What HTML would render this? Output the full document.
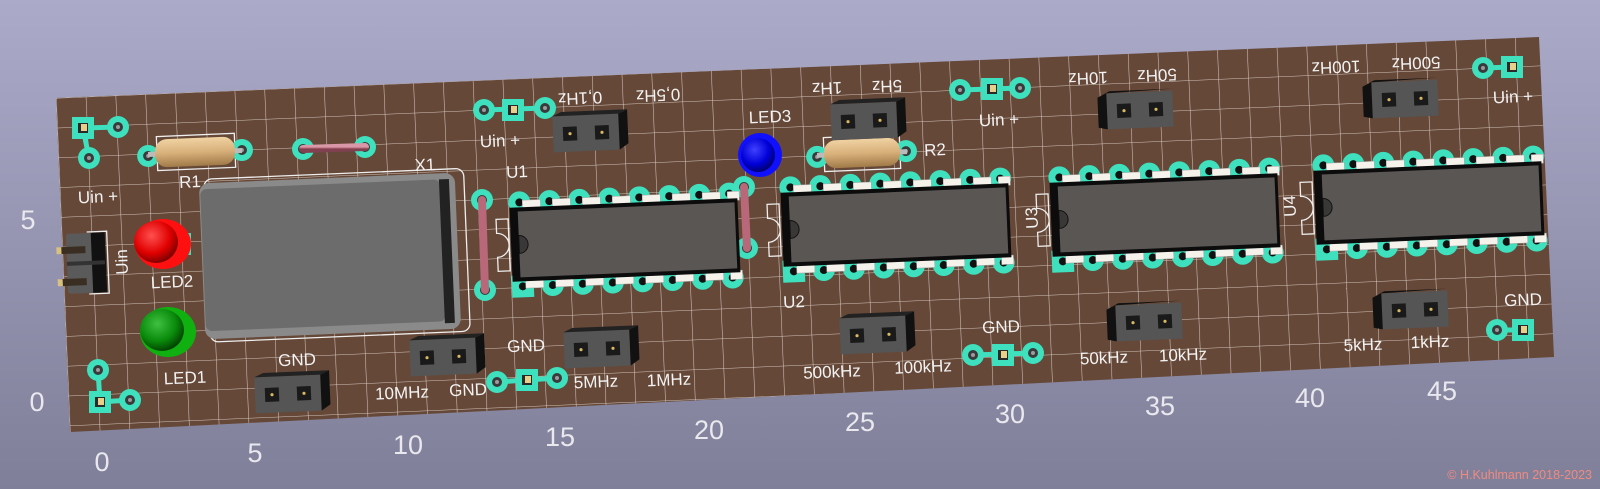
<!DOCTYPE html>
<html><head><meta charset="utf-8"><style>
html,body{margin:0;padding:0;width:1600px;height:489px;overflow:hidden}
svg{display:block}
text{font-family:"Liberation Sans","DejaVu Sans",sans-serif}
</style></head><body>
<svg width="1600" height="489" viewBox="0 0 1600 489" xmlns="http://www.w3.org/2000/svg">
<defs>
<linearGradient id="bg" x1="0" y1="0" x2="0" y2="1">
<stop offset="0" stop-color="#abaac9"/><stop offset="1" stop-color="#7f7f99"/></linearGradient>
<pattern id="grid" width="29.8" height="29.8" patternUnits="userSpaceOnUse" patternTransform="translate(56,98) rotate(-2.4)">
<path d="M0 0V29.8M0 0H29.8" stroke="#e8dcd4" stroke-width="1.1" fill="none" opacity="0.85"/></pattern>
<clipPath id="bc"><polygon points="56,98 1539,37 1554,357 70,432"/></clipPath>
<radialGradient id="red" cx="0.4" cy="0.35" r="0.7"><stop offset="0" stop-color="#ff5050"/><stop offset="0.6" stop-color="#e00000"/><stop offset="1" stop-color="#700000"/></radialGradient>
<radialGradient id="grn" cx="0.4" cy="0.35" r="0.7"><stop offset="0" stop-color="#40c040"/><stop offset="0.6" stop-color="#0a8a0a"/><stop offset="1" stop-color="#003800"/></radialGradient>
<radialGradient id="blu" cx="0.4" cy="0.35" r="0.7"><stop offset="0" stop-color="#4040ff"/><stop offset="0.6" stop-color="#0000d8"/><stop offset="1" stop-color="#000060"/></radialGradient>
<linearGradient id="res" x1="0" y1="0" x2="0" y2="1"><stop offset="0" stop-color="#f0d2a2"/><stop offset="0.5" stop-color="#d8b07a"/><stop offset="1" stop-color="#a07a48"/></linearGradient>
<linearGradient id="jmp" x1="0" y1="0" x2="0" y2="1"><stop offset="0" stop-color="#d898a8"/><stop offset="0.5" stop-color="#b86878"/><stop offset="1" stop-color="#804050"/></linearGradient>
<g id="rp"><circle r="11" fill="#3ee0bd"/><circle r="5" fill="#3a3a3a"/><circle r="2" fill="#9a9aa0"/></g>
<g id="sp"><rect x="-11" y="-11" width="22" height="22" fill="#3ee0bd"/><rect x="-5" y="-5" width="10" height="10" fill="#2a2a2a"/><rect x="-2" y="-4" width="6" height="7" fill="#e8cf8a"/></g>
<g id="hdrR"><rect x="-33" y="-18" width="66" height="36" fill="#555"/><polygon points="33,-18 42,-22 42,12 33,18" fill="#111"/><polygon points="-33,-18 -24,-22 42,-22 33,-18" fill="#222"/>
<rect x="-23" y="-7" width="14" height="14" fill="#1a1a1a"/><rect x="9" y="-7" width="14" height="14" fill="#1a1a1a"/><circle cx="-16" cy="0" r="1.6" fill="#d8b860"/><circle cx="16" cy="0" r="1.6" fill="#d8b860"/></g>
<g id="hdrL"><rect x="-33" y="-18" width="66" height="36" fill="#555"/><polygon points="-33,-18 -42,-14 -42,16 -33,18" fill="#111"/><polygon points="-42,-14 -33,-18 33,-20 -30,-20" fill="#111"/>
<rect x="-23" y="-7" width="14" height="14" fill="#1a1a1a"/><rect x="9" y="-7" width="14" height="14" fill="#1a1a1a"/><circle cx="-16" cy="0" r="1.6" fill="#d8b860"/><circle cx="16" cy="0" r="1.6" fill="#d8b860"/></g>
<g id="ic">
<g fill="#3ee0bd"><circle cx="-104" cy="-42" r="11"/><circle cx="-74" cy="-42" r="11"/><circle cx="-44" cy="-42" r="11"/><circle cx="-14" cy="-42" r="11"/><circle cx="16" cy="-42" r="11"/><circle cx="46" cy="-42" r="11"/><circle cx="76" cy="-42" r="11"/><circle cx="106" cy="-42" r="11"/>
<rect x="-115" y="31" width="22" height="22"/><circle cx="-74" cy="42" r="11"/><circle cx="-44" cy="42" r="11"/><circle cx="-14" cy="42" r="11"/><circle cx="16" cy="42" r="11"/><circle cx="46" cy="42" r="11"/><circle cx="76" cy="42" r="11"/><circle cx="106" cy="42" r="11"/></g>
<g fill="#111"><circle cx="-104" cy="-42" r="4"/><circle cx="-74" cy="-42" r="4"/><circle cx="-44" cy="-42" r="4"/><circle cx="-14" cy="-42" r="4"/><circle cx="16" cy="-42" r="4"/><circle cx="46" cy="-42" r="4"/><circle cx="76" cy="-42" r="4"/><circle cx="106" cy="-42" r="4"/>
<circle cx="-104" cy="42" r="4"/><circle cx="-74" cy="42" r="4"/><circle cx="-44" cy="42" r="4"/><circle cx="-14" cy="42" r="4"/><circle cx="16" cy="42" r="4"/><circle cx="46" cy="42" r="4"/><circle cx="76" cy="42" r="4"/><circle cx="106" cy="42" r="4"/></g>
<path d="M-128 -26h12v52h-12v-14a12 12 0 0 0 0 -24z" fill="none" stroke="#eee" stroke-width="1.3"/>
<g fill="#f4f2ea" stroke="#aaa" stroke-width="0.5"><rect x="-101" y="-44" width="18" height="9"/><rect x="-71" y="-44" width="18" height="9"/><rect x="-41" y="-44" width="18" height="9"/><rect x="-11" y="-44" width="18" height="9"/><rect x="19" y="-44" width="18" height="9"/><rect x="49" y="-44" width="18" height="9"/><rect x="79" y="-44" width="18" height="9"/><rect x="104" y="-44" width="12" height="9"/>
<rect x="-101" y="35" width="18" height="9"/><rect x="-71" y="35" width="18" height="9"/><rect x="-41" y="35" width="18" height="9"/><rect x="-11" y="35" width="18" height="9"/><rect x="19" y="35" width="18" height="9"/><rect x="49" y="35" width="18" height="9"/><rect x="79" y="35" width="18" height="9"/><rect x="104" y="35" width="12" height="9"/></g>
<rect x="-114" y="-37" width="228" height="74" fill="#0c0c0c"/><rect x="-106" y="-33" width="217" height="66" fill="#5a5654"/>
<path d="M-106 -9a9 9 0 0 1 0 18z" fill="#3a3837" stroke="#111" stroke-width="1"/></g>
</defs>
<rect width="1600" height="489" fill="url(#bg)"/>
<polygon points="56,98 1539,37 1554,357 70,432" fill="#654838"/>
<rect width="1600" height="489" fill="url(#grid)" clip-path="url(#bc)"/>

<g stroke="#3ee0bd" stroke-width="5" fill="none">
<path d="M118 127L83 128L89 158"/><path d="M98 370L100 402L130 400"/>
<path d="M484 110L545 108"/><path d="M497 382L557 378"/><path d="M960 90L1020 88"/><path d="M973 355L1033 353"/>
<path d="M1483 68L1512 67"/><path d="M1497 330L1523 330"/></g>
<use href="#sp" x="83" y="128"/><use href="#rp" x="118" y="127"/><use href="#rp" x="89" y="158"/>
<use href="#rp" x="98" y="370"/><use href="#sp" x="100" y="402"/><use href="#rp" x="130" y="400"/>
<use href="#rp" x="484" y="110"/><use href="#sp" x="513" y="110"/><use href="#rp" x="545" y="108"/>
<use href="#rp" x="497" y="382"/><use href="#sp" x="527" y="380"/><use href="#rp" x="557" y="378"/>
<use href="#rp" x="960" y="90"/><use href="#sp" x="992" y="89"/><use href="#rp" x="1020" y="88"/>
<use href="#rp" x="973" y="355"/><use href="#sp" x="1003" y="355"/><use href="#rp" x="1033" y="353"/>
<use href="#rp" x="1483" y="68"/><use href="#sp" x="1512" y="67"/>
<use href="#rp" x="1497" y="330"/><use href="#sp" x="1523" y="330"/>

<!-- R1 -->
<g transform="translate(195,152) rotate(-2.4)">
<rect x="-38" y="-17" width="78" height="34" fill="none" stroke="#eee" stroke-width="1.3"/>
<use href="#rp" x="-47" y="2"/><use href="#rp" x="47" y="0"/>
<rect x="-47" y="-2" width="94" height="5" fill="#bbb"/>
<rect x="-40" y="-14" width="80" height="28" rx="12" fill="url(#res)"/></g>
<!-- R2 -->
<g transform="translate(862,153) rotate(-2.4)">
<rect x="-38" y="-17" width="76" height="34" fill="none" stroke="#eee" stroke-width="1.3"/>
<use href="#rp" x="-45" y="2"/><use href="#rp" x="44" y="0"/>
<rect x="-45" y="-2" width="90" height="5" fill="#bbb"/>
<rect x="-38" y="-14" width="76" height="28" rx="12" fill="url(#res)"/></g>
<!-- jumpers -->
<use href="#rp" x="303" y="149"/><use href="#rp" x="365" y="147"/>
<line x1="303" y1="149" x2="365" y2="147" stroke="url(#jmp)" stroke-width="8" stroke-linecap="round"/>
<use href="#rp" x="482" y="200"/><use href="#rp" x="485" y="290"/>
<line x1="482" y1="200" x2="485" y2="290" stroke="#b86878" stroke-width="8" stroke-linecap="round"/>
<use href="#rp" x="744" y="187"/><use href="#rp" x="747" y="248"/>
<line x1="744" y1="187" x2="747" y2="248" stroke="#b86878" stroke-width="8" stroke-linecap="round"/>

<!-- X1 -->
<g transform="translate(330,256) rotate(-2.4)">
<rect x="-123" y="-82" width="260" height="163" rx="8" fill="none" stroke="#eee" stroke-width="1.3"/>
<rect x="-128" y="-78" width="256" height="156" rx="10" fill="#8a8a8a"/>
<rect x="-127" y="-72" width="240" height="142" rx="6" fill="#6c6c6c"/>
<rect x="112" y="-72" width="10" height="144" fill="#222"/></g>

<!-- ICs -->
<g transform="translate(625,240) rotate(-2.4)"><use href="#ic"/></g>
<g transform="translate(896,225) rotate(-2.4)"><use href="#ic"/></g>
<g transform="translate(1165,215) rotate(-2.4)"><use href="#ic"/></g>
<g transform="translate(1429,203) rotate(-2.4)"><use href="#ic"/></g>

<!-- headers -->
<g transform="translate(288,394) rotate(-2.4)"><use href="#hdrR"/></g>
<g transform="translate(443,357) rotate(-2.4)"><use href="#hdrR"/></g>
<g transform="translate(586,133) rotate(-2.4)"><use href="#hdrR"/></g>
<g transform="translate(597,349) rotate(-2.4)"><use href="#hdrR"/></g>
<g transform="translate(864,121) rotate(-2.4)"><use href="#hdrR"/></g>
<g transform="translate(873,335) rotate(-2.4)"><use href="#hdrR"/></g>
<g transform="translate(1140,110) rotate(-2.4)"><use href="#hdrL"/></g>
<g transform="translate(1149,322) rotate(-2.4)"><use href="#hdrL"/></g>
<g transform="translate(1405,99) rotate(-2.4)"><use href="#hdrL"/></g>
<g transform="translate(1415,310) rotate(-2.4)"><use href="#hdrL"/></g>

<!-- Uin header -->
<g transform="translate(88,264) rotate(-2.4)">
<path d="M0 -32h20v62h-20" fill="none" stroke="#eee" stroke-width="1.3"/>
<rect x="-21" y="-31" width="38" height="60" rx="3" fill="#5a5a5a"/><rect x="4" y="-31" width="14" height="60" fill="#111"/><rect x="-21" y="-3" width="38" height="4" fill="#333"/>
<rect x="-28" y="-18" width="26" height="7" fill="#3a2e22"/><rect x="-28" y="14" width="26" height="7" fill="#3a2e22"/>
<rect x="-31" y="-18" width="5" height="7" fill="#d8c080"/><rect x="-31" y="14" width="5" height="7" fill="#d8c080"/></g>

<!-- LEDs -->
<rect x="181" y="233" width="10" height="22" fill="#3ee0bd"/>
<ellipse cx="163" cy="244" rx="28" ry="25" fill="#ff1010"/>
<ellipse cx="156" cy="242" rx="22" ry="21" fill="url(#red)"/>
<ellipse cx="168" cy="332" rx="28" ry="25" fill="#10b010"/>
<ellipse cx="162" cy="330" rx="22" ry="21" fill="url(#grn)"/>
<rect x="745" y="147" width="10" height="22" fill="#3ee0bd"/>
<circle cx="760" cy="155" r="22" fill="#1010ff"/>
<circle cx="758" cy="155" r="17" fill="url(#blu)"/>

<!-- silkscreen text -->
<g fill="#f2f2f2" font-size="17" text-anchor="middle" dominant-baseline="central">
<text transform="translate(98,197) rotate(-2.4)">Uin  +</text>
<text transform="translate(190,182) rotate(-2.4)">R1</text>
<text transform="translate(425,165) rotate(-2.4)">X1</text>
<text transform="translate(517,172) rotate(-2.4)">U1</text>
<text transform="translate(172,282) rotate(-2.4)">LED2</text>
<text transform="translate(122,262) rotate(-92.4)">Uin</text>
<text transform="translate(185,378) rotate(-2.4)">LED1</text>
<text transform="translate(297,360) rotate(-2.4)">GND</text>
<text transform="translate(402,393) rotate(-2.4)">10MHz</text>
<text transform="translate(468,390) rotate(-2.4)">GND</text>
<text transform="translate(500,141) rotate(-2.4)">Uin  +</text>
<text transform="translate(580,98) rotate(177.6)">0,1Hz</text>
<text transform="translate(658,95) rotate(177.6)">0,5Hz</text>
<text transform="translate(770,117) rotate(-2.4)">LED3</text>
<text transform="translate(827,88) rotate(177.6)">1Hz</text>
<text transform="translate(887,86) rotate(177.6)">5Hz</text>
<text transform="translate(935,150) rotate(-2.4)">R2</text>
<text transform="translate(794,302) rotate(-2.4)">U2</text>
<text transform="translate(526,346) rotate(-2.4)">GND</text>
<text transform="translate(596,382) rotate(-2.4)">5MHz</text>
<text transform="translate(669,380) rotate(-2.4)">1MHz</text>
<text transform="translate(832,372) rotate(-2.4)">500kHz</text>
<text transform="translate(923,367) rotate(-2.4)">100kHz</text>
<text transform="translate(999,120) rotate(-2.4)">Uin  +</text>
<text transform="translate(1088,78) rotate(177.6)">10Hz</text>
<text transform="translate(1157,75) rotate(177.6)">50Hz</text>
<text transform="translate(1032,218) rotate(-92.4)">U3</text>
<text transform="translate(1001,327) rotate(-2.4)">GND</text>
<text transform="translate(1104,358) rotate(-2.4)">50kHz</text>
<text transform="translate(1183,355) rotate(-2.4)">10kHz</text>
<text transform="translate(1290,206) rotate(-92.4)">U4</text>
<text transform="translate(1336,67) rotate(177.6)">100Hz</text>
<text transform="translate(1416,63) rotate(177.6)">500Hz</text>
<text transform="translate(1513,97) rotate(-2.4)">Uin  +</text>
<text transform="translate(1363,345) rotate(-2.4)">5kHz</text>
<text transform="translate(1430,342) rotate(-2.4)">1kHz</text>
<text transform="translate(1523,300) rotate(-2.4)">GND</text>
</g>

<!-- axis -->
<g fill="#e8e8ee" font-size="27" text-anchor="middle" dominant-baseline="central">
<text x="28" y="220">5</text><text x="37" y="402">0</text>
<text x="102" y="462">0</text><text x="255" y="453">5</text><text x="408" y="445">10</text>
<text x="560" y="437">15</text><text x="709" y="430">20</text><text x="860" y="422">25</text>
<text x="1010" y="414">30</text><text x="1160" y="406">35</text><text x="1310" y="398">40</text><text x="1442" y="391">45</text>
</g>
<text x="1592" y="475" font-size="12.5" fill="#f08a80" text-anchor="end" dominant-baseline="central">© H.Kuhlmann 2018-2023</text>
</svg>
</body></html>
